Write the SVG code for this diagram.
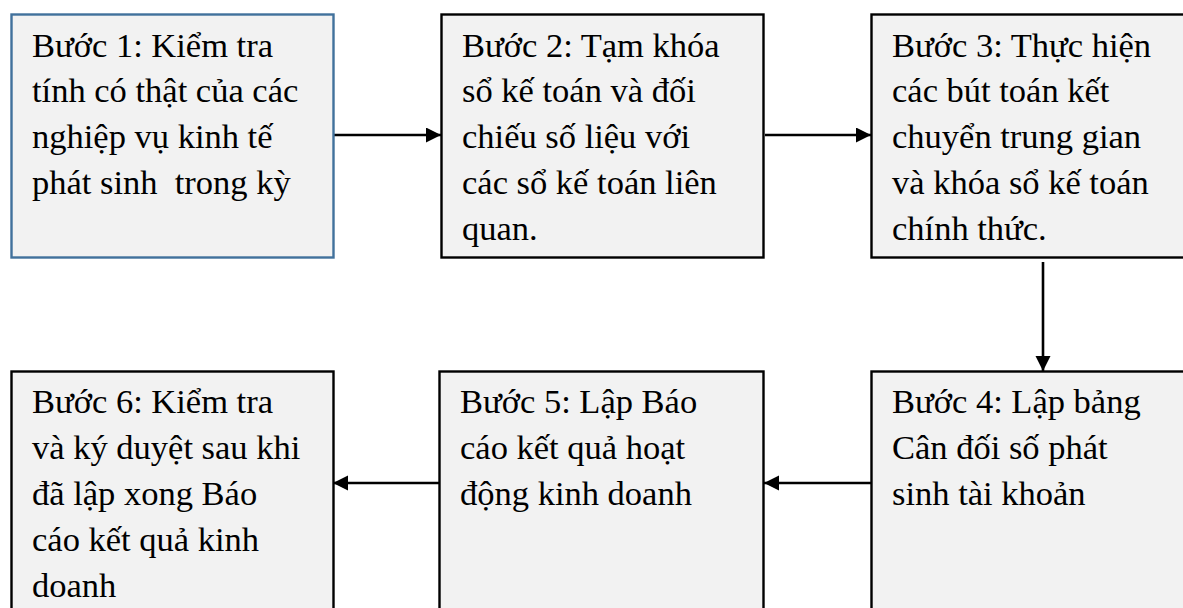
<svg xmlns="http://www.w3.org/2000/svg" width="1183" height="608" viewBox="0 0 1183 608">
<style>
.box{fill:#f2f2f2;stroke:#000;stroke-width:2.4}
.b1{stroke:#41719c}
.t{font-family:"Liberation Serif","Times New Roman",serif;font-size:34.5px;fill:#000;white-space:pre}
.c{stroke:#000;stroke-width:2.6;fill:none}
</style>
<defs>
<marker id="ah" markerUnits="userSpaceOnUse" markerWidth="17" markerHeight="17" refX="15" refY="7.5" orient="auto">
<path d="M0,0 L15,7.5 L0,15 Z" fill="#000"/>
</marker>
</defs>
<rect width="1183" height="608" fill="#fff"/>
<g id="connectors">
<line class="c" x1="334" y1="135" x2="441" y2="135" marker-end="url(#ah)"/>
<line class="c" x1="765" y1="135" x2="871" y2="135" marker-end="url(#ah)"/>
<line class="c" x1="1043" y1="262" x2="1043" y2="371" marker-end="url(#ah)"/>
<line class="c" x1="871" y1="483" x2="764" y2="483" marker-end="url(#ah)"/>
<line class="c" x1="439" y1="483" x2="333" y2="483" marker-end="url(#ah)"/>
</g>
<g id="step1">
<rect class="box b1" x="11.5" y="14.5" width="322" height="243"/>
<text class="t" xml:space="preserve"><tspan x="32" y="57">Bước 1: Kiểm tra</tspan><tspan x="32" y="102">tính có thật của các</tspan><tspan x="32" y="148">nghiệp vụ kinh tế</tspan><tspan x="32" y="194">phát sinh  trong kỳ</tspan></text>
</g>
<g id="step2">
<rect class="box" x="441.5" y="14.5" width="322" height="243"/>
<text class="t"><tspan x="462" y="57">Bước 2: Tạm khóa</tspan><tspan x="462" y="102">sổ kế toán và đối</tspan><tspan x="462" y="148">chiếu số liệu với</tspan><tspan x="462" y="194">các sổ kế toán liên</tspan><tspan x="462" y="240">quan.</tspan></text>
</g>
<g id="step3">
<rect class="box" x="871.5" y="14.5" width="330" height="243"/>
<text class="t"><tspan x="892" y="57">Bước 3: Thực hiện</tspan><tspan x="892" y="102">các bút toán kết</tspan><tspan x="892" y="148">chuyển trung gian</tspan><tspan x="892" y="194">và khóa sổ kế toán</tspan><tspan x="892" y="240">chính thức.</tspan></text>
</g>
<g id="step4">
<rect class="box" x="871.5" y="371.5" width="330" height="260"/>
<text class="t"><tspan x="892" y="413">Bước 4: Lập bảng</tspan><tspan x="892" y="459">Cân đối số phát</tspan><tspan x="892" y="505">sinh tài khoản</tspan></text>
</g>
<g id="step5">
<rect class="box" x="439.5" y="371.5" width="324" height="260"/>
<text class="t"><tspan x="460" y="413">Bước 5: Lập Báo</tspan><tspan x="460" y="459">cáo kết quả hoạt</tspan><tspan x="460" y="505">động kinh doanh</tspan></text>
</g>
<g id="step6">
<rect class="box" x="11.5" y="371.5" width="322" height="260"/>
<text class="t"><tspan x="32" y="413">Bước 6: Kiểm tra</tspan><tspan x="32" y="459">và ký duyệt sau khi</tspan><tspan x="32" y="505">đã lập xong Báo</tspan><tspan x="32" y="551">cáo kết quả kinh</tspan><tspan x="32" y="597">doanh</tspan></text>
</g>
</svg>
